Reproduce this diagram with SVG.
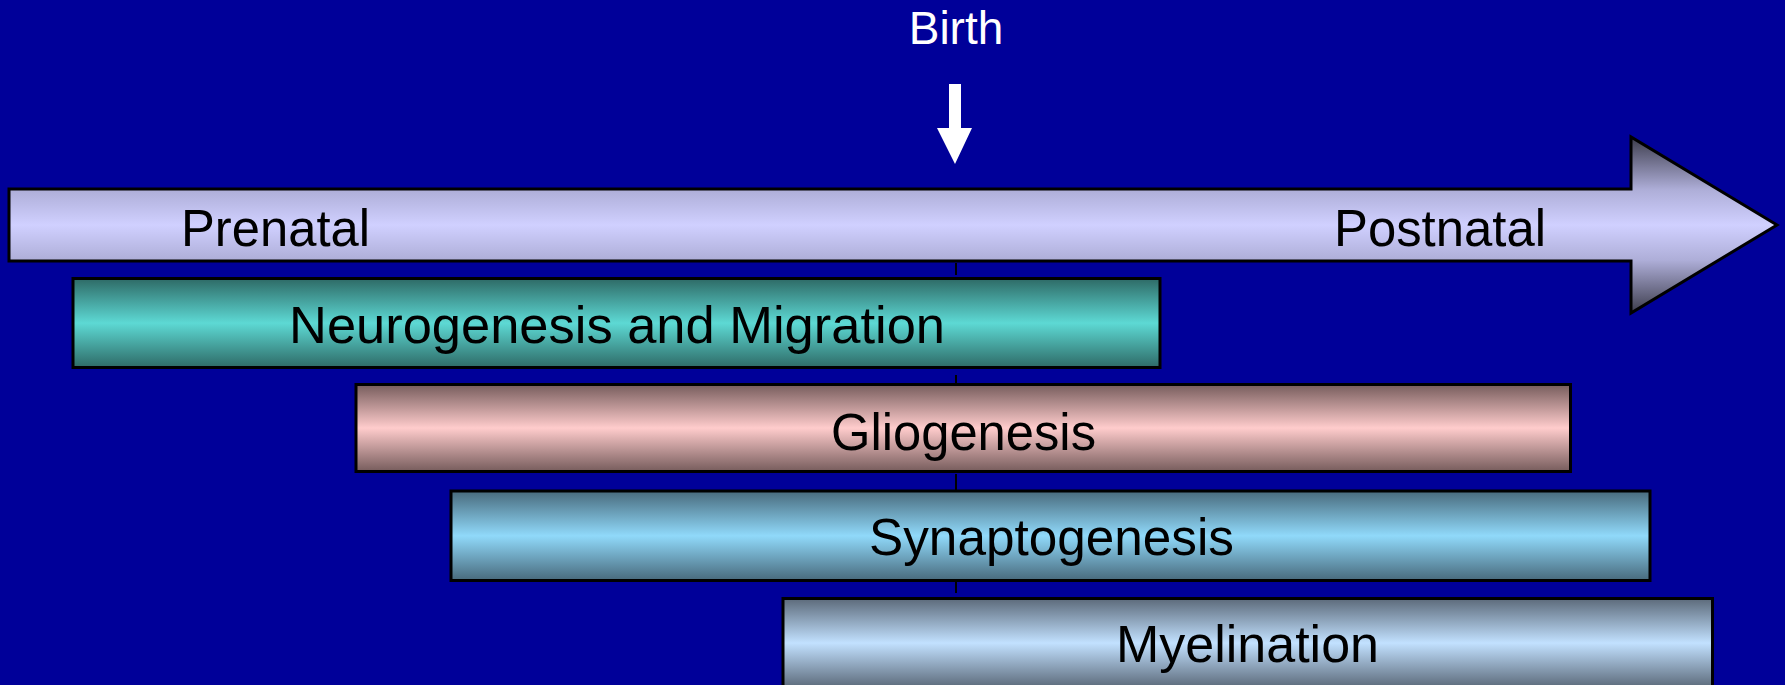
<svg xmlns="http://www.w3.org/2000/svg" width="1785" height="685" viewBox="0 0 1785 685">
<defs>
<linearGradient id="gArrow" x1="0" y1="0" x2="0" y2="1">
<stop offset="0" stop-color="#3C3C4C"/>
<stop offset="0.3" stop-color="#AEAED8"/>
<stop offset="0.5" stop-color="#D0D0FF"/>
<stop offset="0.7" stop-color="#AEAED8"/>
<stop offset="1" stop-color="#3C3C4C"/>
</linearGradient>
<linearGradient id="gNeuro" x1="0" y1="0" x2="0" y2="1">
<stop offset="0" stop-color="#2E6A66"/>
<stop offset="0.5" stop-color="#5DD9D4"/>
<stop offset="1" stop-color="#2E6A66"/>
</linearGradient>
<linearGradient id="gGlio" x1="0" y1="0" x2="0" y2="1">
<stop offset="0" stop-color="#765C5C"/>
<stop offset="0.5" stop-color="#FFCCCC"/>
<stop offset="1" stop-color="#765C5C"/>
</linearGradient>
<linearGradient id="gSyn" x1="0" y1="0" x2="0" y2="1">
<stop offset="0" stop-color="#486A7C"/>
<stop offset="0.5" stop-color="#90D9FA"/>
<stop offset="1" stop-color="#486A7C"/>
</linearGradient>
<linearGradient id="gMye" x1="0" y1="0" x2="0" y2="1">
<stop offset="0" stop-color="#5C6A7A"/>
<stop offset="0.5" stop-color="#C2E1FF"/>
<stop offset="1" stop-color="#5C6A7A"/>
</linearGradient>
</defs>
<style>
.lbl{font-family:"Liberation Sans",Arial,sans-serif;font-size:52px;fill:#000}
.box{stroke:#000;stroke-width:3}
</style>
<rect x="0" y="0" width="1785" height="685" fill="#000099"/>

<g id="connectors">
<path d="M956,263 V275 M956,375 V384 M956,474 V490 M956,582 V593" stroke="#000" stroke-width="2" fill="none"/>
</g>

<g id="birth">
<text x="956" y="44" text-anchor="middle" font-family="Liberation Sans, Arial, sans-serif" font-size="46" fill="#FFFFFF">Birth</text>
<polygon points="949,84 961,84 961,128 972,128 955,164 937,128 949,128" fill="#FFFFFF"/>
</g>

<g id="timeline">
<polygon class="box" points="9,189 1631,189 1631,137 1777,225 1631,313 1631,261 9,261" fill="url(#gArrow)"/>
<text class="lbl" x="181" y="246" textLength="189" lengthAdjust="spacingAndGlyphs">Prenatal</text>
<text class="lbl" x="1334" y="246" textLength="212" lengthAdjust="spacingAndGlyphs">Postnatal</text>
</g>

<g id="neurogenesis">
<rect class="box" x="73" y="278.5" width="1087" height="89" fill="url(#gNeuro)"/>
<text class="lbl" x="289" y="343" textLength="656" lengthAdjust="spacingAndGlyphs">Neurogenesis and Migration</text>
</g>

<g id="gliogenesis">
<rect class="box" x="356" y="384.5" width="1214.5" height="87" fill="url(#gGlio)"/>
<text class="lbl" x="831" y="450" textLength="265" lengthAdjust="spacingAndGlyphs">Gliogenesis</text>
</g>

<g id="synaptogenesis">
<rect class="box" x="451" y="491" width="1199" height="89.5" fill="url(#gSyn)"/>
<text class="lbl" x="869" y="555" textLength="365" lengthAdjust="spacingAndGlyphs">Synaptogenesis</text>
</g>

<g id="myelination">
<rect class="box" x="783" y="598.5" width="929.5" height="89" fill="url(#gMye)"/>
<text class="lbl" x="1116" y="662" textLength="263" lengthAdjust="spacingAndGlyphs">Myelination</text>
</g>
</svg>
